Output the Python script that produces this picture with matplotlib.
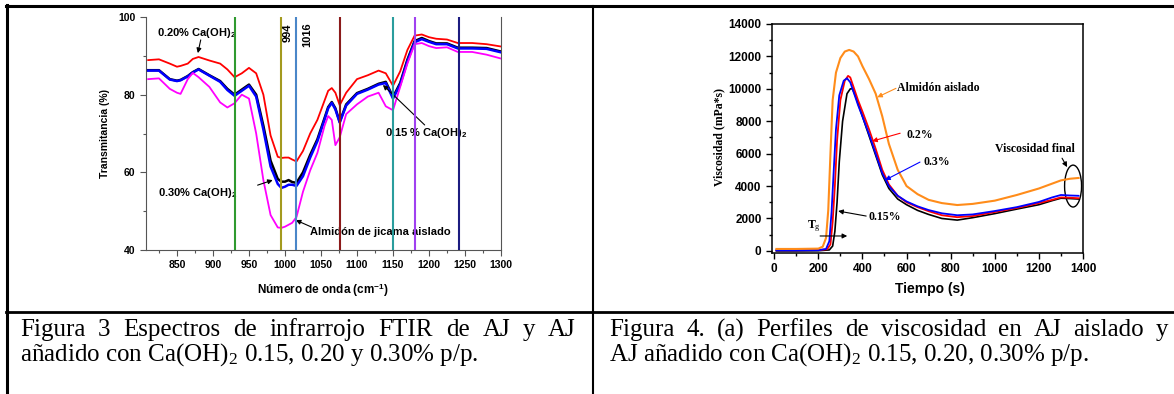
import matplotlib
matplotlib.use('Agg')
import matplotlib.pyplot as plt
from matplotlib.lines import Line2D
from matplotlib.patches import Ellipse
from matplotlib.ticker import MultipleLocator

plt.rcParams['mathtext.fontset'] = 'custom'
plt.rcParams['mathtext.rm'] = 'Liberation Serif'
plt.rcParams['mathtext.bf'] = 'Liberation Sans:bold'
plt.rcParams['mathtext.it'] = 'Liberation Serif:italic'

SANS = 'Liberation Sans'
SERIF = 'Liberation Serif'

# ---- Figura 3: FTIR spectra ----
wn = [810, 825, 840, 850, 855, 865, 872, 880, 895, 910, 920, 930, 940, 950, 960, 970, 980,
      990, 995, 1000, 1005, 1010, 1016, 1025, 1035, 1045, 1055, 1060, 1065, 1070, 1076,
      1085, 1100, 1115, 1130, 1140, 1150, 1160, 1170, 1180, 1190, 1200, 1210, 1225, 1240,
      1260, 1280, 1300]
ftir_020 = [88.9, 89.1, 88.0, 87.2, 87.4, 88.0, 89.2, 89.7, 88.8, 88.0, 86.5, 84.5, 85.5,
            86.9, 85.5, 80.0, 69.5, 64.0, 63.7, 63.8, 63.8, 63.3, 62.8, 65.5, 70.0, 73.5,
            78.5, 81.0, 81.7, 80.5, 77.3, 80.5, 84.0, 85.0, 86.2, 85.5, 82.3, 86.0, 91.5,
            95.2, 95.5, 94.8, 94.4, 94.2, 93.3, 93.3, 93.0, 92.4]
ftir_030 = [86.3, 86.3, 84.0, 83.6, 83.8, 84.8, 85.8, 86.6, 85.0, 83.5, 81.5, 80.0, 81.3,
            82.6, 80.0, 72.0, 63.0, 58.3, 57.6, 57.6, 58.0, 57.5, 57.3, 60.0, 64.5, 68.5,
            74.0, 76.8, 78.1, 76.5, 73.0, 77.5, 80.4, 81.5, 82.8, 83.3, 79.4, 83.0, 89.0,
            93.8, 94.6, 93.8, 93.2, 93.2, 92.1, 92.1, 92.0, 91.1]
ftir_015 = [86.2, 86.2, 83.9, 83.5, 83.7, 84.7, 85.7, 86.5, 84.9, 83.3, 81.2, 79.7, 81.0,
            82.3, 79.5, 71.0, 61.5, 57.0, 56.0, 56.3, 56.8, 56.8, 56.5, 59.0, 63.8, 68.0,
            73.6, 76.5, 77.9, 76.2, 72.8, 77.2, 80.2, 81.3, 82.6, 83.0, 79.0, 82.6, 88.6,
            93.5, 94.3, 93.6, 93.0, 93.0, 91.9, 91.9, 91.8, 90.9]
ftir_aislado = [84.0, 84.2, 81.5, 80.5, 80.2, 84.0, 85.6, 84.5, 82.0, 78.0, 76.7, 77.8,
                80.0, 79.0, 70.0, 58.0, 49.0, 45.8, 45.7, 46.0, 46.5, 47.0, 48.5, 55.0,
                60.5, 65.0, 72.0, 74.5, 73.5, 67.0, 69.0, 75.0, 77.5, 79.5, 80.5, 77.0,
                76.0, 82.0, 88.0, 93.0, 93.3, 92.5, 92.0, 92.2, 91.0, 91.0, 90.3, 89.3]
bands = [930, 994, 1016, 1076, 1150, 1180, 1242]
band_colors = ['#2f9a2f', '#a39a1e', '#4a86c8', '#8b1a1a', '#2a9d9d', '#a040f0', '#1c1c80']

# ---- Figura 4: viscosity profiles ----
t_aislado = [10, 100, 200, 220, 235, 245, 255, 265, 280, 300, 320, 340, 360, 380, 400, 430,
             460, 490, 520, 560, 600, 650, 700, 760, 830, 900, 1000, 1100, 1200, 1260, 1300,
             1340, 1380]
v_aislado = [120, 120, 140, 260, 800, 2500, 6000, 9300, 11000, 11900, 12300, 12400, 12300,
             12000, 11400, 10600, 9700, 8300, 6600, 5000, 4000, 3500, 3150, 2950, 2830,
             2900, 3100, 3450, 3850, 4150, 4350, 4450, 4500]
t_020 = [10, 100, 200, 240, 255, 265, 275, 285, 300, 320, 335, 345, 360, 380, 400, 430, 460,
         490, 520, 560, 600, 650, 700, 760, 830, 900, 1000, 1100, 1200, 1260, 1300, 1340, 1380]
v_020 = [40, 40, 50, 100, 400, 1800, 4000, 6800, 9300, 10500, 10800, 10700, 10100, 9300,
         8600, 7500, 6300, 5000, 4100, 3400, 3000, 2700, 2450, 2200, 2080, 2150, 2400, 2650,
         2950, 3150, 3300, 3280, 3250]
t_030 = [10, 100, 200, 235, 250, 260, 270, 280, 295, 315, 330, 345, 360, 380, 400, 430, 460,
         490, 520, 560, 600, 650, 700, 760, 830, 900, 1000, 1100, 1200, 1260, 1300, 1340, 1380]
v_030 = [30, 30, 40, 120, 600, 2400, 5000, 7500, 9600, 10500, 10650, 10400, 9800, 9000,
         8300, 7200, 6000, 4800, 4000, 3400, 3050, 2750, 2520, 2320, 2200, 2250, 2460, 2700,
         3020, 3300, 3450, 3420, 3400]
t_015 = [10, 100, 200, 250, 265, 275, 285, 295, 310, 330, 345, 355, 370, 390, 410, 430, 460,
         490, 520, 560, 600, 650, 700, 760, 830, 900, 1000, 1100, 1200, 1260, 1300, 1340, 1380]
v_015 = [0, 0, 10, 60, 300, 1200, 3000, 5500, 8000, 9700, 10000, 10000, 9500, 8700, 7900,
         7100, 5900, 4700, 3850, 3200, 2850, 2500, 2250, 2000, 1900, 2050, 2300, 2580, 2850,
         3100, 3250, 3230, 3200]

fig = plt.figure(figsize=(11.74, 3.94), dpi=100)
W, H = 1174.0, 394.0

# table lines (pixel coords converted to figure fractions)
def hline(y, x0, x1, lw):
    fig.add_artist(Line2D([x0 / W, x1 / W], [1 - y / H, 1 - y / H], color='black', lw=lw))

def vline(x, y0, y1, lw):
    fig.add_artist(Line2D([x / W, x / W], [1 - y0 / H, 1 - y1 / H], color='black', lw=lw))

hline(6, 6, 1174, 2.2)
hline(312, 6, 1174, 2.0)
vline(7, 5, 394, 2.2)
vline(593, 6, 394, 1.5)

# ---- left chart ----
ax1 = fig.add_axes([146 / W, 1 - 250 / H, 355 / W, 233 / H])
ax1.plot(wn, ftir_020, color='red', lw=1.3, zorder=3)
ax1.plot(wn, ftir_030, color='black', lw=1.8, zorder=3)
ax1.plot(wn, ftir_015, color='blue', lw=1.8, zorder=3)
ax1.plot(wn, ftir_aislado, color='magenta', lw=1.3, zorder=3)
for b, c in zip(bands, band_colors):
    ax1.axvline(b, color=c, lw=1.5, zorder=4)
ax1.set_xlim(807, 1300)
ax1.set_ylim(40, 100)
ax1.xaxis.set_major_locator(MultipleLocator(50))
ax1.xaxis.set_minor_locator(MultipleLocator(25))
ax1.yaxis.set_major_locator(MultipleLocator(20))
ax1.yaxis.set_minor_locator(MultipleLocator(10))
ax1.spines['top'].set_visible(False)
for s in ['left', 'right', 'bottom']:
    ax1.spines[s].set_color('#555555')
ax1.tick_params(which='both', direction='out', color='#555555', width=0.8)
ax1.tick_params(which='major', length=4, labelsize=7.5)
ax1.tick_params(which='minor', length=2.5)
for lab in ax1.get_xticklabels() + ax1.get_yticklabels():
    lab.set_fontfamily(SANS)
    lab.set_fontweight('bold')
ax1.set_xlabel('Número de onda (cm$^{\\mathbf{-1}}$)', fontfamily=SANS, fontweight='bold',
               fontsize=8.5)
ax1.set_ylabel('Transmitancia (%)', fontfamily=SANS, fontweight='bold', fontsize=7.5)
ax1.xaxis.set_label_coords(0.4986, -0.137)
ax1.yaxis.set_label_coords(-0.101, 0.502)

akw = dict(fontfamily=SANS, fontweight='bold', fontsize=8, va='center', ha='left')
arr = dict(arrowstyle='-|>', color='black', lw=0.8, mutation_scale=7, shrinkA=0, shrinkB=0)
ax1.text(822, 95.9, '0.20% Ca(OH)$_{\\mathbf{2}}$', **akw)
ax1.annotate('', xy=(879, 90.7), xytext=(883, 94.1), arrowprops=arr)
ax1.text(1139, 70.1, '0.15 % Ca(OH)$_{\\mathbf{2}}$', **akw)
ax1.annotate('', xy=(1136, 82.5), xytext=(1194, 72.2), arrowprops=arr)
ax1.text(824, 54.7, '0.30% Ca(OH)$_{\\mathbf{2}}$', **akw)
ax1.annotate('', xy=(983, 58.0), xytext=(962, 56.7), arrowprops=arr)
ax1.text(1035, 44.6, 'Almidón de jicama aislado', **akw)
ax1.annotate('', xy=(1015, 47.7), xytext=(1037, 45.9), arrowprops=arr)
ax1.text(1003, 95.9, '994', rotation=90, fontfamily=SANS, fontweight='bold', fontsize=8,
         ha='center', va='center')
ax1.text(1030.5, 95.4, '1016', rotation=90, fontfamily=SANS, fontweight='bold', fontsize=8,
         ha='center', va='center')

# ---- right chart ----
ax2 = fig.add_axes([772 / W, 1 - 253 / H, 311 / W, 229 / H])
ax2.plot(t_015, v_015, color='black', lw=1.2)
ax2.plot(t_020, v_020, color='red', lw=1.3)
ax2.plot(t_030, v_030, color='blue', lw=1.3)
ax2.plot(t_aislado, v_aislado, color='#ff8c1a', lw=1.5)
ax2.set_xlim(-10, 1400)
ax2.set_ylim(-130, 14000)
ax2.xaxis.set_major_locator(MultipleLocator(200))
ax2.xaxis.set_minor_locator(MultipleLocator(100))
ax2.yaxis.set_major_locator(MultipleLocator(2000))
ax2.yaxis.set_minor_locator(MultipleLocator(1000))
for s in ax2.spines.values():
    s.set_linewidth(1.1)
ax2.tick_params(which='both', direction='out', width=1)
ax2.tick_params(which='major', length=4, labelsize=8.5)
ax2.tick_params(which='minor', length=2.5)
for lab in ax2.get_xticklabels() + ax2.get_yticklabels():
    lab.set_fontfamily(SANS)
    lab.set_fontweight('bold')
ax2.set_xlabel('Tiempo (s)', fontfamily=SANS, fontweight='bold', fontsize=10)
ax2.set_ylabel('Viscosidad (mPa*s)', fontfamily=SERIF, fontweight='bold', fontsize=8.5)
ax2.xaxis.set_label_coords(0.508, -0.127)
ax2.yaxis.set_label_coords(-0.15, 0.507)

skw = dict(fontfamily=SERIF, fontweight='bold', fontsize=8.5, va='center', ha='left')
ax2.text(557, 10030, 'Almidón aislado', **skw)
ax2.annotate('', xy=(467, 9480), xytext=(552, 10030), arrowprops=dict(arr, color='#ff8c1a'))
ax2.text(598, 7140, '0.2%', **skw)
ax2.annotate('', xy=(444, 6770), xytext=(571, 7260), arrowprops=dict(arr, color='red'))
ax2.text(675, 5480, '0.3%', **skw)
ax2.annotate('', xy=(503, 4370), xytext=(661, 5480), arrowprops=dict(arr, color='blue'))
ax2.text(426, 2090, '0.15%', **skw)
ax2.annotate('', xy=(290, 2460), xytext=(417, 2150), arrowprops=arr)
ax2.text(150, 1540, 'T$_{\\mathrm{g}}$', **skw)
ax2.annotate('', xy=(331, 920), xytext=(208, 920), arrowprops=arr)
ax2.text(1183, 6280, 'Viscosidad final', fontfamily=SERIF, fontweight='bold', fontsize=8.5,
         va='center', ha='center')
ax2.annotate('', xy=(1328, 5170), xytext=(1305, 5720), arrowprops=arr)
ax2.add_patch(Ellipse((1355, 4000), 77, 2585, fill=False, edgecolor='black', lw=1.0,
                      clip_on=False))

# ---- captions ----
ckw = dict(fontfamily=SERIF, fontsize=18, va='center', ha='left')
renderer = fig.canvas.get_renderer()

def justified(line, x0, x1, y):
    words = line.split(' ')
    objs = [fig.text(0, 1 - y / H, w, **ckw) for w in words]
    widths = [o.get_window_extent(renderer).width for o in objs]
    gap = (x1 - x0 - sum(widths)) / (len(words) - 1)
    x = x0
    for o, w in zip(objs, widths):
        o.set_x(x / W)
        x += w + gap

justified('Figura 3 Espectros de infrarrojo FTIR de AJ y AJ', 20, 576, 330)
fig.text(20 / W, 1 - 355 / H, 'añadido con Ca(OH)$_{\\mathrm{2}}$ 0.15, 0.20 y 0.30% p/p.', **ckw)
justified('Figura 4. (a) Perfiles de viscosidad en AJ aislado y', 609, 1168, 330)
fig.text(609 / W, 1 - 355 / H, 'AJ añadido con Ca(OH)$_{\\mathrm{2}}$ 0.15, 0.20, 0.30% p/p.', **ckw)

fig.savefig('out.png', dpi=100)
